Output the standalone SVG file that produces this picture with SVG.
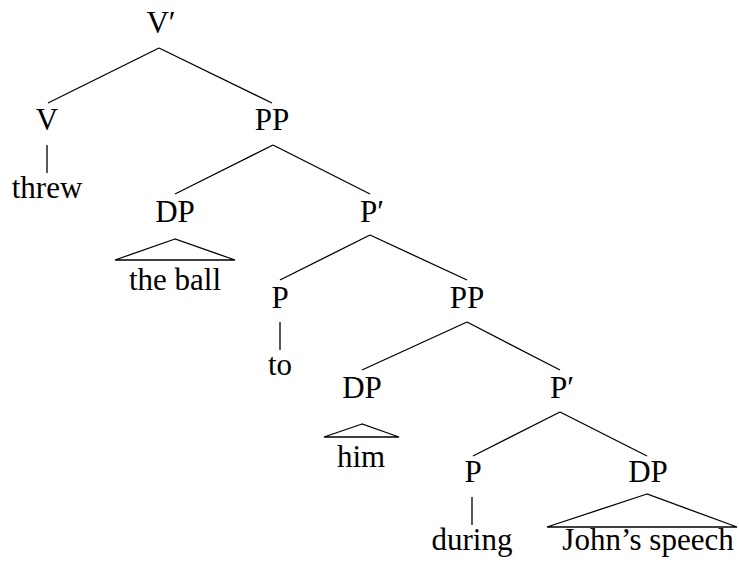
<svg xmlns="http://www.w3.org/2000/svg" width="739" height="563" viewBox="0 0 739 563">
<style>
.e{stroke:#000;stroke-width:1.3;fill:none}
</style>
<rect width="739" height="563" fill="#fff"/>
<g id="connectors">
<line class="e" x1="159" y1="48" x2="48" y2="103"/>
<line class="e" x1="159" y1="48" x2="272" y2="103"/>
<line class="e" x1="47" y1="145" x2="47" y2="173"/>
<line class="e" x1="273" y1="145" x2="175" y2="194"/>
<line class="e" x1="273" y1="145" x2="370" y2="194"/>
<polygon class="e" points="175,239 115,260 235,260"/>
<line class="e" x1="370" y1="235" x2="280" y2="280"/>
<line class="e" x1="370" y1="235" x2="467" y2="280"/>
<line class="e" x1="280" y1="322" x2="280" y2="350"/>
<line class="e" x1="467" y1="322" x2="362" y2="370"/>
<line class="e" x1="467" y1="322" x2="560" y2="370"/>
<polygon class="e" points="362,424 324,437 399,437"/>
<line class="e" x1="560" y1="412" x2="473" y2="456"/>
<line class="e" x1="560" y1="412" x2="647" y2="456"/>
<line class="e" x1="472" y1="497" x2="472" y2="525"/>
<polygon class="e" points="647,494 547,527 737,527"/>
</g>
<g font-family="Liberation Serif, DejaVu Serif, serif" font-size="31" fill="#000" text-anchor="middle">
<g id="n-vbar"><text x="161" y="33">V′</text></g>
<g id="n-v"><text x="47" y="130">V</text></g>
<g id="n-threw"><text x="47" y="198">threw</text></g>
<g id="n-pp1"><text x="272" y="130">PP</text></g>
<g id="n-dp1"><text x="175" y="222">DP</text></g>
<g id="n-theball"><text x="175" y="290">the ball</text></g>
<g id="n-pbar1"><text x="372" y="222">P′</text></g>
<g id="n-p1"><text x="280" y="308">P</text></g>
<g id="n-to"><text x="280" y="375">to</text></g>
<g id="n-pp2"><text x="467" y="308">PP</text></g>
<g id="n-dp2"><text x="362" y="398">DP</text></g>
<g id="n-him"><text x="361" y="467">him</text></g>
<g id="n-pbar2"><text x="562" y="398">P′</text></g>
<g id="n-p2"><text x="473" y="482">P</text></g>
<g id="n-during"><text x="472" y="550">during</text></g>
<g id="n-dp3"><text x="648" y="482">DP</text></g>
<g id="n-speech"><text x="648" y="550">John’s speech</text></g>
</g>
</svg>
